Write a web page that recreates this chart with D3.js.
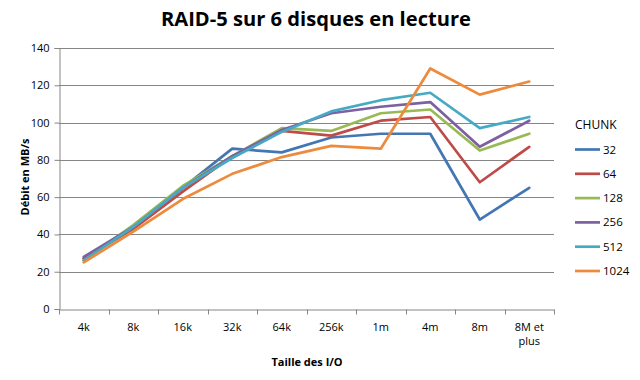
<!DOCTYPE html>
<html><head><meta charset="utf-8">
<script src="https://cdn.jsdelivr.net/npm/d3@7"></script>
<style>body{margin:0;background:#fff}svg{display:block}text{font-family:"Open Sans","Noto Sans",sans-serif;fill:#000}</style>
</head><body><svg id="c" width="640" height="380"></svg>
<script>
const categories = ["4k","8k","16k","32k","64k","256k","1m","4m","8m","8M et plus"];
const seriesNames = ["32","64","128","256","512","1024"];
const s32   = [27, 44, 65, 86, 84, 92, 94, 94, 48, 65];
const s64   = [27, 43, 63, 82, 95.5, 93, 101, 103, 68, 87];
const s128  = [26, 45, 66, 82, 97, 95.5, 105, 107, 85, 94];
const s256  = [28, 44, 65, 82, 96, 105, 108.5, 111, 87, 101];
const s512  = [26, 44, 65, 81, 95, 106, 112, 116, 97, 103];
const s1024 = [25, 41.5, 59, 72.5, 81.5, 87.5, 86, 129, 115, 122];
const yTicks = [0,20,40,60,80,100,120,140];
const colors = ["#4476B4","#BE4B48","#98B954","#7D60A0","#46AAC5","#EE8A3C"];
const seriesValues = [s32,s64,s128,s256,s512,s1024];

const svg = d3.select("#c");
const L=59, R=554, T=48, B=309;
const x = d3.scaleBand().domain(categories).range([L,R]);
const y = d3.scaleLinear().domain([0,140]).range([B,T]);

// gridlines
svg.append("g").selectAll("line").data(yTicks.filter(d=>d>0)).join("line")
  .attr("x1",L).attr("x2",R).attr("y1",d=>Math.round(y(d))+0.5).attr("y2",d=>Math.round(y(d))+0.5)
  .attr("stroke","#868686").attr("stroke-width",1);

// y axis
const ya = svg.append("g").attr("transform",`translate(${L+0.5},0)`)
  .call(d3.axisLeft(y).tickValues(yTicks).tickSize(5).tickPadding(5).tickFormat(d3.format("d")));
ya.select(".domain").attr("stroke","#868686");
ya.selectAll(".tick line").attr("stroke","#868686");
ya.selectAll(".tick text").attr("font-size",11).attr("font-family","'Open Sans',sans-serif").attr("fill","#000");

// x axis
const xa = svg.append("g").attr("transform",`translate(0,${B+0.5})`)
  .call(d3.axisBottom(x).tickSize(0).tickFormat(""));
xa.select(".domain").attr("stroke","#868686");
xa.selectAll(".tick").remove();
const edges = categories.map(c=>x(c)).concat([R]);
xa.selectAll("line.t").data(edges).join("line").attr("class","t")
  .attr("x1",d=>Math.round(d)+0.5).attr("x2",d=>Math.round(d)+0.5).attr("y1",0).attr("y2",5)
  .attr("stroke","#868686");
categories.forEach(c=>{
  const cx = x(c)+x.bandwidth()/2;
  const parts = c==="8M et plus" ? ["8M et","plus"] : [c];
  parts.forEach((p,i)=>{
    svg.append("text").attr("x",cx).attr("y",331+i*14).attr("text-anchor","middle")
      .attr("font-size",11).text(p);
  });
});

// lines
const line = d3.line().x((d,i)=>x(categories[i])+x.bandwidth()/2).y(d=>y(d));
seriesValues.forEach((vals,k)=>{
  svg.append("path").datum(vals).attr("d",line).attr("fill","none")
    .attr("stroke",colors[k]).attr("stroke-width",2.7).attr("stroke-linejoin","round").attr("stroke-linecap","round");
});

// titles
svg.append("text").attr("x",316).attr("y",26).attr("text-anchor","middle")
  .attr("font-size",19).attr("font-weight","bold").attr("textLength",310).attr("lengthAdjust","spacingAndGlyphs")
  .text("RAID-5 sur 6 disques en lecture");
svg.append("text").attr("x",307).attr("y",366).attr("text-anchor","middle")
  .attr("font-size",11).attr("font-weight","bold").text("Taille des I/O");
svg.append("text").attr("transform","translate(29,177) rotate(-90)").attr("text-anchor","middle")
  .attr("font-size",11).attr("font-weight","bold").text("Débit en MB/s");

// legend
svg.append("text").attr("x",575).attr("y",129).attr("font-size",12).text("CHUNK");
seriesNames.forEach((n,k)=>{
  const ly = 149.5 + k*24.3;
  svg.append("line").attr("x1",575).attr("x2",600).attr("y1",ly).attr("y2",ly)
    .attr("stroke",colors[k]).attr("stroke-width",2.7);
  svg.append("text").attr("x",603).attr("y",ly+4).attr("font-size",11.5).text(n);
});
</script></body></html>
